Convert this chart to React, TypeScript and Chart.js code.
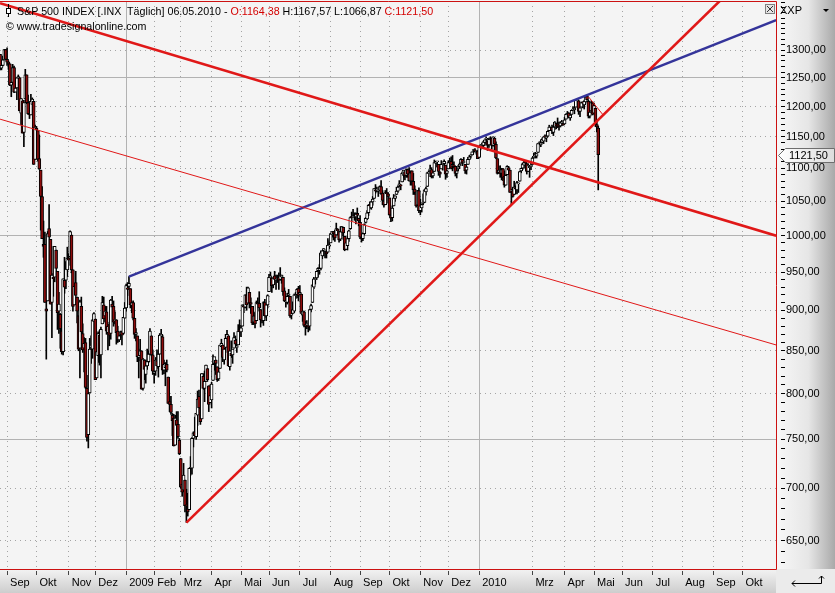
import React, { useEffect, useRef } from 'react';
import { Chart, registerables } from 'chart.js';

Chart.register(...registerables);

// Daily candles, trading-day index 0 = 25.08.2008 ... index 427 = 06.05.2010
const OPEN: number[] = [
  // Aug 2008
  1292,1267,1272,1282,1301,
  // Sep 2008
  1283,1278,1275,1237,1242,1268,1225,1232,1250,1250,1189,1210,1157,1213,1255,1207,1188,1186,1204,1209,1114,
  // Oct 2008
  1164,1160,1115,1097,1057,988,988,902,912,1010,995,910,943,943,980,951,899,895,874,849,939,939,953,
  // Nov 2008
  969,971,1001,953,907,936,917,893,853,905,871,853,860,806,755,801,854,852,886,
  // Dec 2008
  889,818,844,869,845,883,907,893,898,872,882,871,908,905,887,888,874,863,870,873,871,890,
  // Jan 2009
  903,929,931,928,906,910,890,870,868,842,844,850,806,839,822,832,837,846,868,845,
  // Feb 2009
  823,826,838,831,846,868,867,827,830,834,819,791,788,776,773,744,771,766,749,
  // Mar 2009
  730,704,698,708,684,680,679,720,720,751,758,753,776,797,784,772,820,806,814,829,809,790,
  // Apr 2009
  793,815,835,839,831,817,829,855,857,839,854,865,868,831,847,845,853,863,854,857,876,
  // May 2009
  873,880,906,904,920,909,923,910,905,885,893,887,910,909,901,889,887,910,893,907,
  // Jun 2009
  924,942,942,933,945,939,940,943,940,943,943,925,911,910,919,918,894,896,899,919,920,928,
  // Jul 2009
  921,921,894,898,882,882,880,880,901,910,930,940,942,952,953,955,972,979,978,977,977,986,
  // Aug 2009
  990,1001,1006,1004,1001,1009,1006,995,1005,1012,999,981,986,996,1010,1027,1026,1027,1027,1032,1025,
  // Sep 2009
  1019,997,996,1003,1019,1024,1033,1045,1040,1049,1054,1067,1066,1065,1066,1072,1062,1050,1045,1063,1061,
  // Oct 2009
  1055,1029,1026,1043,1054,1060,1065,1072,1074,1079,1089,1095,1089,1098,1091,1080,1096,1080,1068,1061,1044,1066,
  // Nov 2009
  1036,1040,1047,1048,1064,1072,1092,1096,1098,1088,1095,1108,1110,1106,1094,1099,1106,1107,1105,1092,
  // Dec 2009
  1099,1109,1111,1103,1105,1103,1092,1099,1104,1108,1114,1109,1106,1097,1106,1114,1119,1121,1128,1129,1125,1127,
  // Jan 2010
  1117,1133,1136,1136,1141,1146,1143,1137,1145,1148,1136,1148,1138,1115,1093,1096,1092,1099,1088,
  // Feb 2010
  1074,1090,1101,1097,1065,1066,1060,1070,1067,1076,1080,1096,1100,1105,1110,1107,1095,1101,1103,
  // Mar 2010
  1106,1117,1119,1119,1125,1139,1137,1141,1143,1151,1148,1151,1160,1166,1166,1157,1166,1172,1171,1168,1168,1173,1172,
  // Apr 2010
  1171,1179,1186,1189,1181,1187,1194,1195,1199,1210,1210,1192,1199,1207,1203,1208,1218,1209,1184,1193,1206,
  // May 2010
  1189,1197,1170,1164.38,
];

const HIGH: number[] = [
  1292,1276,1289,1301,1301,
  1304,1280,1275,1244,1274,1271,1243,1250,1255,1250,1214,1210,1211,1265,1255,1220,1197,1221,1215,1209,1169,
  1167,1160,1153,1097,1072,1021,1005,936,1006,1045,995,948,985,985,980,951,923,896,893,941,970,964,984,
  975,1007,1001,953,931,951,917,893,913,917,883,866,865,821,801,865,868,888,897,
  889,850,873,875,879,918,917,905,905,882,885,914,918,912,898,888,880,869,874,874,891,910,
  934,936,944,928,911,912,890,877,868,852,864,850,841,839,839,852,850,877,868,851,
  830,842,851,850,871,876,869,839,836,839,819,797,797,778,777,776,780,780,751,
  730,712,725,708,699,695,720,732,752,758,774,778,803,804,788,823,823,826,833,829,809,810,
  813,845,842,839,831,829,857,864,857,853,870,875,868,850,862,852,872,868,864,882,888,
  881,907,907,920,930,930,923,916,905,898,897,912,916,924,901,896,911,914,909,920,
  947,950,942,943,951,946,946,949,956,946,943,929,918,922,927,918,899,911,921,923,928,931,
  932,921,899,899,886,887,883,901,908,933,943,941,951,956,960,979,979,982,980,977,996,993,
  1003,1006,1006,1008,1018,1010,1006,1013,1013,1012,999,991,999,1008,1027,1034,1038,1033,1033,1040,1025,
  1029,1000,1004,1017,1026,1036,1045,1049,1050,1057,1069,1075,1071,1067,1073,1081,1066,1056,1066,1069,1063,
  1055,1031,1043,1060,1058,1071,1073,1081,1075,1094,1097,1095,1099,1099,1101,1096,1096,1092,1073,1064,1066,1070,
  1053,1046,1061,1067,1071,1094,1096,1105,1101,1097,1113,1111,1111,1106,1095,1112,1107,1113,1105,1097,
  1112,1116,1118,1120,1110,1103,1097,1104,1108,1115,1114,1117,1106,1103,1117,1120,1121,1126,1130,1131,1127,1128,
  1134,1137,1140,1143,1145,1150,1143,1148,1150,1148,1150,1148,1142,1115,1103,1104,1100,1100,1096,
  1090,1104,1103,1097,1068,1071,1080,1073,1080,1077,1095,1100,1108,1112,1112,1108,1107,1103,1108,
  1117,1124,1125,1123,1139,1142,1145,1148,1150,1153,1151,1160,1169,1167,1169,1167,1175,1172,1181,1174,1175,1177,1174,
  1182,1188,1192,1190,1188,1194,1200,1199,1211,1213,1211,1198,1208,1208,1211,1217,1220,1211,1196,1210,1208,
  1206,1197,1175,1167.57,
];

const LOW: number[] = [
  1264,1264,1271,1282,1282,
  1272,1265,1236,1217,1242,1224,1225,1212,1233,1193,1170,1156,1134,1213,1205,1187,1180,1186,1187,1106,1114,
  1141,1111,1098,1008,996,970,910,840,912,973,908,866,918,937,952,876,871,853,846,845,922,928,944,
  959,971,949,899,907,907,884,850,818,869,848,825,806,748,741,801,835,841,882,
  816,818,836,833,818,883,886,885,870,851,856,864,896,880,883,858,860,861,866,857,870,890,
  899,919,927,903,897,888,865,862,837,818,838,805,804,816,812,828,836,846,844,822,
  812,821,829,819,846,862,822,823,809,825,789,780,777,754,743,744,752,751,734,
  700,692,698,677,667,673,679,713,714,742,753,750,765,778,766,772,805,791,814,814,780,790,
  784,815,827,822,814,815,829,845,837,834,848,861,832,827,842,835,853,856,848,857,868,
  867,880,897,903,900,909,903,896,882,882,878,887,905,899,879,884,881,891,887,903,
  924,938,923,929,934,927,936,927,939,935,919,911,904,908,915,891,889,896,897,915,916,912,
  921,896,886,879,869,877,873,875,898,910,928,934,940,943,947,953,968,972,969,969,977,982,
  990,998,994,992,1001,1001,991,993,1000,995,979,981,980,992,1009,1021,1026,1022,1017,1023,1014,
  996,991,993,1001,1018,1023,1029,1039,1038,1044,1054,1062,1064,1057,1066,1060,1045,1041,1045,1057,1047,
  1029,1020,1021,1043,1050,1060,1063,1072,1067,1079,1086,1082,1086,1086,1080,1074,1074,1060,1060,1041,1044,1033,
  1030,1034,1045,1048,1059,1072,1087,1093,1085,1085,1095,1102,1102,1089,1086,1099,1097,1105,1083,1086,
  1099,1106,1099,1096,1100,1088,1085,1096,1101,1108,1104,1108,1092,1091,1106,1114,1116,1121,1124,1126,1122,1115,
  1117,1129,1134,1131,1136,1138,1128,1133,1143,1130,1135,1129,1115,1091,1092,1086,1082,1081,1071,
  1074,1090,1095,1063,1045,1056,1060,1061,1061,1063,1080,1093,1098,1100,1104,1091,1095,1086,1098,
  1106,1116,1116,1116,1125,1137,1134,1140,1139,1147,1142,1150,1160,1161,1155,1152,1162,1163,1165,1161,1166,1168,1169,
  1171,1179,1183,1181,1177,1187,1194,1188,1199,1208,1187,1183,1199,1198,1196,1206,1211,1181,1181,1193,1186,
  1189,1168,1158,1066.87,
];

const CLOSE: number[] = [
  1267,1272,1282,1301,1283,
  1278,1275,1237,1242,1268,1225,1232,1250,1252,1193,1214,1156,1207,1255,1207,1188,1186,1209,1213,1106,1166,
  1161,1114,1099,1057,996,985,910,899,1003,998,908,946,941,985,955,897,908,877,849,941,930,954,969,
  966,1006,953,905,931,919,899,852,911,873,851,859,807,752,800,852,857,888,896,
  816,849,871,845,876,910,889,899,874,880,869,913,904,885,888,872,863,868,873,869,891,903,
  932,927,935,907,910,890,870,872,843,844,850,805,840,828,832,837,846,874,845,826,
  825,839,832,846,869,870,827,834,835,827,789,788,779,770,743,773,765,753,735,
  701,696,713,683,683,677,720,721,751,757,754,778,794,784,769,823,806,814,833,816,788,798,
  811,834,843,835,816,825,857,859,842,852,865,870,832,850,844,852,866,858,855,874,873,
  878,907,904,920,907,929,909,908,884,893,883,910,908,903,888,887,910,893,907,919,
  943,945,932,942,940,939,942,939,945,946,924,912,911,918,921,893,895,901,920,919,927,919,
  923,896,899,881,880,883,879,901,906,933,941,940,951,955,954,976,979,982,980,975,987,987,
  1003,1006,1003,997,1010,1007,994,1006,1013,1004,980,990,996,1007,1026,1026,1028,1028,1031,1029,1021,
  998,995,1003,1016,1025,1033,1044,1043,1049,1053,1069,1065,1068,1065,1072,1061,1051,1044,1063,1061,1057,
  1030,1025,1040,1055,1058,1065,1071,1076,1073,1092,1097,1088,1098,1091,1081,1093,1080,1067,1063,1043,1066,1036,
  1043,1045,1047,1067,1069,1093,1093,1099,1087,1093,1109,1110,1110,1095,1091,1106,1106,1111,1091,1096,
  1109,1109,1100,1106,1103,1092,1096,1102,1106,1114,1108,1109,1096,1102,1114,1118,1121,1126,1128,1126,1126,1115,
  1133,1137,1137,1142,1145,1147,1136,1146,1148,1136,1150,1138,1116,1092,1097,1092,1098,1085,1074,
  1089,1103,1097,1063,1066,1057,1071,1068,1078,1076,1095,1100,1107,1109,1108,1095,1105,1103,1104,
  1116,1118,1119,1123,1139,1139,1140,1146,1150,1150,1151,1159,1166,1166,1160,1166,1174,1168,1166,1167,1173,1173,1169,
  1178,1187,1189,1182,1186,1194,1196,1197,1211,1212,1192,1198,1207,1206,1209,1217,1212,1184,1191,1207,1187,
  1202,1174,1166,1121.5,
];

// Month ticks (trading-day index of the first trading day of each month)
const MONTH_TICKS = [5, 26, 49, 68, 90, 110, 129, 151, 172, 192, 214, 236, 257, 278, 300, 320, 342, 380, 403, 424, 444, 466, 487, 509, 530];
const MONTH_LABELS = ['Sep', 'Okt', 'Nov', 'Dez', '2009', 'Feb', 'Mrz', 'Apr', 'Mai', 'Jun', 'Jul', 'Aug', 'Sep', 'Okt', 'Nov', 'Dez', '2010', 'Mrz', 'Apr', 'Mai', 'Jun', 'Jul', 'Aug', 'Sep', 'Okt'];
const YEAR_TICKS = [90, 342];

const Y_LABEL_VALUES = [650, 700, 750, 800, 850, 900, 950, 1000, 1050, 1100, 1150, 1200, 1250, 1300];
const Y_SOLID_VALUES = [750, 1000, 1250];
const Y_MINOR_FROM = 630;
const Y_MINOR_TO = 1390;
const Y_MINOR_STEP = 10;

// Trend lines: [trading-day index, price]
const TREND_BLUE = [[92, 943.85], [554, 1356]];
const TREND_RED_UP = [[133, 666.79], [554, 1506]];
const TREND_RED_DOWN = [[0, 1389], [554, 1000]];
const TREND_RED_THIN = [[0, 1179], [554, 857]];
const TREND_RED_SHORT = [[420, 1217], [430.5, 1186]];

const X_MIN = -0.05;
const X_MAX = 553.9;
const Y_MIN = 624.5;
const Y_MAX = 1393.2;

const FONT = '"Liberation Sans", Arial, sans-serif';
const RED = '#e01818';
const NAVY = '#34349a';
const DOWN_FILL = '#8e0d0d';

function fmt(v: number) {
  return v.toFixed(2).replace('.', ',');
}

export default function App() {
  const ref = useRef<HTMLCanvasElement>(null);

  useEffect(() => {
    document.body.style.margin = '0';
    const n = Math.min(OPEN.length, HIGH.length, LOW.length, CLOSE.length);
    const wicks: any[] = [];
    const bodies: any[] = [];
    const bodyColors: string[] = [];
    for (let i = 0; i < n; i++) {
      wicks.push({ x: i, y: [LOW[i], HIGH[i]] });
      bodies.push({ x: i, y: [Math.min(OPEN[i], CLOSE[i]), Math.max(OPEN[i], CLOSE[i])] });
      bodyColors.push(CLOSE[i] >= OPEN[i] ? '#ffffff' : DOWN_FILL);
    }
    const pts = (arr: number[][]) => arr.map(([x, y]) => ({ x, y }));
    const lastClose = CLOSE[n - 1];

    const chrome = {
      id: 'chrome',
      beforeDraw(chart: any) {
        const { ctx, chartArea: a, width, height } = chart;
        ctx.save();
        ctx.fillStyle = '#f4f4f4';
        ctx.fillRect(0, 0, a.right, a.bottom);
        let g = ctx.createLinearGradient(a.right, 0, width, 0);
        g.addColorStop(0, '#f8f8f8');
        g.addColorStop(0.55, '#e6e6e6');
        g.addColorStop(1, '#a9a9a9');
        ctx.fillStyle = g;
        ctx.fillRect(a.right, 0, width - a.right, a.bottom);
        g = ctx.createLinearGradient(0, a.bottom, 0, height);
        g.addColorStop(0, '#f3f3f3');
        g.addColorStop(1, '#cdcdcd');
        ctx.fillStyle = g;
        ctx.fillRect(0, a.bottom, a.right, height - a.bottom);
        ctx.fillStyle = '#ebebeb';
        ctx.fillRect(a.right, a.bottom, width - a.right, height - a.bottom);
        ctx.restore();
      },
      afterDraw(chart: any) {
        const { ctx, chartArea: a } = chart;
        ctx.save();
        ctx.strokeStyle = '#cc1111';
        ctx.lineWidth = 1;
        ctx.beginPath();
        ctx.moveTo(0, a.top + 0.5);
        ctx.lineTo(a.right + 0.5, a.top + 0.5);
        ctx.lineTo(a.right + 0.5, a.bottom + 0.5);
        ctx.lineTo(0, a.bottom + 0.5);
        ctx.stroke();
        // last price marker
        const y = Math.round(chart.scales.y.getPixelForValue(lastClose)) + 0.5;
        const x0 = a.right + 2.5;
        ctx.beginPath();
        ctx.moveTo(x0, y);
        ctx.lineTo(x0 + 7, y - 7);
        ctx.lineTo(834.5, y - 7);
        ctx.lineTo(834.5, y + 7);
        ctx.lineTo(x0 + 7, y + 7);
        ctx.closePath();
        const g = ctx.createLinearGradient(x0, 0, 835, 0);
        g.addColorStop(0, '#ffffff');
        g.addColorStop(1, '#dcdcdc');
        ctx.fillStyle = g;
        ctx.fill();
        ctx.strokeStyle = '#6e6e6e';
        ctx.stroke();
        ctx.fillStyle = '#000';
        ctx.font = '11px ' + FONT;
        ctx.textBaseline = 'middle';
        ctx.textAlign = 'left';
        ctx.fillText(fmt(lastClose), a.right + 13, y + 0.5);
        ctx.restore();
      },
    };

    const lineDs = (data: number[][], color: string, width: number) => ({
      type: 'line',
      data: pts(data),
      borderColor: color,
      borderWidth: width,
      pointRadius: 0,
      tension: 0,
      fill: false,
      order: 0,
    });

    const chart = new Chart(ref.current as HTMLCanvasElement, {
      type: 'bar',
      data: {
        datasets: [
          lineDs(TREND_RED_THIN, RED, 1),
          lineDs(TREND_RED_SHORT, RED, 1),
          lineDs(TREND_RED_DOWN, RED, 2.6),
          lineDs(TREND_RED_UP, RED, 2.6),
          lineDs(TREND_BLUE, NAVY, 2.4),
          {
            type: 'bar',
            data: bodies,
            backgroundColor: bodyColors,
            borderColor: '#000',
            borderWidth: 1,
            borderSkipped: false,
            barThickness: 3,
            minBarLength: 1,
            grouped: false,
            order: 1,
          },
          {
            type: 'bar',
            data: wicks,
            backgroundColor: '#000',
            borderWidth: 0,
            barThickness: 1,
            grouped: false,
            order: 2,
          },
        ] as any,
      },
      options: {
        animation: false,
        responsive: false,
        devicePixelRatio: 1,
        events: [],
        layout: { padding: { top: 1, left: 0, right: 0, bottom: 0 } },
        plugins: {
          legend: { display: false },
          tooltip: { enabled: false },
          title: { display: false },
        },
        scales: {
          x: {
            type: 'linear',
            position: 'bottom',
            min: X_MIN,
            max: X_MAX,
            bounds: 'data',
            offset: false,
            afterBuildTicks: (s: any) => {
              s.ticks = MONTH_TICKS.map((v) => ({ value: v }));
            },
            afterFit: (s: any) => {
              s.height = 24;
              s.paddingLeft = 0;
              s.paddingRight = 0;
            },
            ticks: {
              autoSkip: false,
              maxRotation: 0,
              minRotation: 0,
              align: 'start',
              labelOffset: 3,
              padding: 1,
              color: '#000',
              font: { family: FONT, size: 11 },
              callback: (v: any) => {
                const k = MONTH_TICKS.indexOf(Number(v));
                return k >= 0 ? MONTH_LABELS[k] : '';
              },
            },
            grid: {
              offset: false,
              color: (c: any) => (c.tick && YEAR_TICKS.includes(c.tick.value) ? '#b2b2b2' : '#a4a4a4'),
              lineWidth: 1,
              tickLength: 6,
              tickColor: '#444',
              tickBorderDash: [0, 2, 4],
            },
            border: {
              display: false,
              dash: (c: any) => (c.tick && YEAR_TICKS.includes(c.tick.value) ? [] : [1, 4]),
            },
          },
          y: {
            type: 'logarithmic',
            position: 'right',
            min: Y_MIN,
            max: Y_MAX,
            bounds: 'data',
            afterBuildTicks: (s: any) => {
              const t: any[] = [];
              for (let v = Y_MINOR_FROM; v <= Y_MINOR_TO; v += Y_MINOR_STEP) t.push({ value: v });
              s.ticks = t;
            },
            afterFit: (s: any) => {
              s.width = 59;
              s.paddingTop = 0;
              s.paddingBottom = 0;
            },
            ticks: {
              autoSkip: false,
              padding: 1,
              color: '#000',
              font: { family: FONT, size: 11 },
              callback: (v: any) => (Y_LABEL_VALUES.includes(Number(v)) ? fmt(Number(v)) : ''),
            },
            grid: {
              color: (c: any) => {
                const v = c.tick ? c.tick.value : NaN;
                if (!Y_LABEL_VALUES.includes(v)) return 'rgba(0,0,0,0)';
                return Y_SOLID_VALUES.includes(v) ? '#b2b2b2' : '#a4a4a4';
              },
              lineWidth: 1,
              tickLength: 9,
              tickColor: '#000',
              tickBorderDash: [0, 5, 4],
            },
            border: {
              display: false,
              dash: (c: any) => (c.tick && Y_SOLID_VALUES.includes(c.tick.value) ? [] : [1, 4]),
            },
          },
        },
      } as any,
      plugins: [chrome],
    } as any);

    return () => chart.destroy();
  }, []);

  return (
    <div style={{ position: 'relative', width: 835, height: 593, overflow: 'hidden', fontFamily: FONT }}>
      <canvas ref={ref} width={835} height={593} style={{ position: 'absolute', left: 0, top: 0, width: 835, height: 593 }} />
      <svg width={835} height={593} style={{ position: 'absolute', left: 0, top: 0, pointerEvents: 'none' }}>
        {/* candle icon */}
        <line x1={8.5} y1={4} x2={8.5} y2={17} stroke="#000" strokeWidth={1} />
        <rect x={6.5} y={8.5} width={4} height={5} fill="#fff" stroke="#000" strokeWidth={1} />
        {/* close box */}
        <rect x={765.5} y={4.5} width={9} height={9} fill="#e4e4e4" stroke="#808080" strokeWidth={1} />
        <line x1={767} y1={6} x2={773} y2={12} stroke="#333" strokeWidth={1} />
        <line x1={773} y1={6} x2={767} y2={12} stroke="#333" strokeWidth={1} />
        {/* dropdown triangle */}
        <polygon points="823,9 829,9 826,12" fill="#000" />
        {/* corner arrow */}
        <polyline points="792,583.5 821.5,583.5 821.5,576" fill="none" stroke="#000" strokeWidth={1} />
        <polyline points="795,580.5 792,583.5 795,586.5" fill="none" stroke="#000" strokeWidth={1} />
        <polyline points="819,578.5 821.5,576 824,578.5" fill="none" stroke="#000" strokeWidth={1} />
      </svg>
      <div style={{ position: 'absolute', left: 17, top: 4, fontSize: '10.7px', lineHeight: '14px', whiteSpace: 'pre', color: '#000' }}>
        {'S&P 500 INDEX [.INX  Täglich] 06.05.2010 - '}
        <span style={{ color: '#d40000' }}>O:1164,38</span>
        {' H:1167,57 L:1066,87 '}
        <span style={{ color: '#d40000' }}>C:1121,50</span>
      </div>
      <div style={{ position: 'absolute', left: 6, top: 19, fontSize: '10.7px', lineHeight: '14px', whiteSpace: 'pre', color: '#000' }}>
        {'© www.tradesignalonline.com'}
      </div>
      <div style={{ position: 'absolute', left: 780, top: 3, fontSize: '11px', lineHeight: '14px', whiteSpace: 'pre', color: '#000' }}>
        XXP
      </div>
    </div>
  );
}
